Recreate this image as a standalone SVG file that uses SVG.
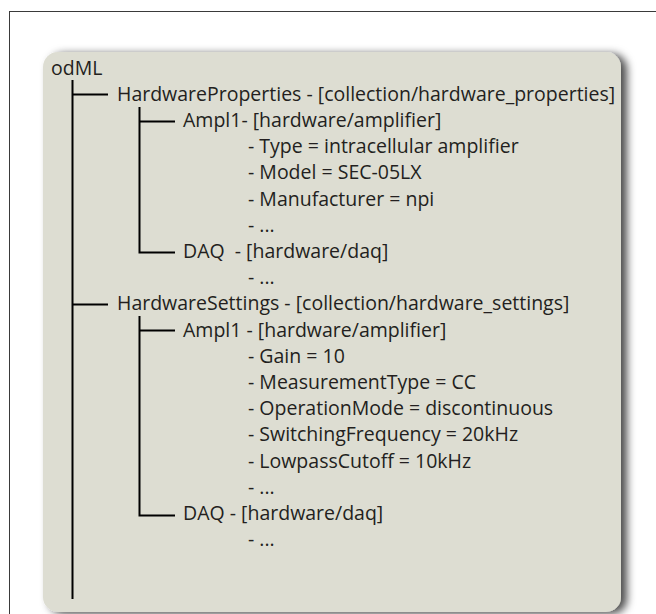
<svg xmlns="http://www.w3.org/2000/svg" width="656" height="614" viewBox="0 0 656 614">
  <style>
    text { font-family: "Open Sans", "Liberation Sans", sans-serif; font-size: 19.5px; fill: #231f20; }
    .conn { stroke: #000; stroke-width: 2; fill: none; }
  </style>
  <defs>
    <filter id="shadow" x="-10%" y="-10%" width="125%" height="125%">
      <feDropShadow dx="6" dy="2" stdDeviation="4" flood-color="#000" flood-opacity="0.7"/>
    </filter>
  </defs>
  <rect x="0" y="0" width="656" height="614" fill="#fff"/>
  <rect x="9.5" y="11.5" width="700" height="700" fill="none" stroke="#3a3a3a" stroke-width="1"/>
  <rect x="43" y="52" width="578" height="560" rx="15" fill="#ddddd2" filter="url(#shadow)"/>

  <g id="connectors">
    <path class="conn" d="M72.5 80 V599"/>
    <path class="conn" d="M72 94.5 H108"/>
    <path class="conn" d="M72 304.5 H108"/>
    <path class="conn" d="M139.5 107 V252.5 H175"/>
    <path class="conn" d="M139 121.5 H175"/>
    <path class="conn" d="M139.5 316 V515.5 H175"/>
    <path class="conn" d="M139 330.5 H175"/>
  </g>

  <g id="odml"><text x="51" y="74.5">odML</text></g>
  <g id="hw-properties"><text x="117" y="100.7">HardwareProperties - [collection/hardware_properties]</text></g>
  <g id="props-ampl1">
    <text x="183" y="126.9">Ampl1- [hardware/amplifier]</text>
    <text x="248" y="153.1">- Type = intracellular amplifier</text>
    <text x="248" y="179.3">- Model = SEC-05LX</text>
    <text x="248" y="205.5">- Manufacturer = npi</text>
    <text x="248" y="231.7">- ...</text>
  </g>
  <g id="props-daq">
    <text x="183" y="257.9" xml:space="preserve">DAQ  - [hardware/daq]</text>
    <text x="248" y="284.1">- ...</text>
  </g>
  <g id="hw-settings"><text x="117" y="310.3">HardwareSettings - [collection/hardware_settings]</text></g>
  <g id="settings-ampl1">
    <text x="183" y="336.5">Ampl1 - [hardware/amplifier]</text>
    <text x="248" y="362.7">- Gain = 10</text>
    <text x="248" y="388.9">- MeasurementType = CC</text>
    <text x="248" y="415.1">- OperationMode = discontinuous</text>
    <text x="248" y="441.3">- SwitchingFrequency = 20kHz</text>
    <text x="248" y="467.5">- LowpassCutoff = 10kHz</text>
    <text x="248" y="493.7">- ...</text>
  </g>
  <g id="settings-daq">
    <text x="183" y="519.9">DAQ - [hardware/daq]</text>
    <text x="248" y="546.1">- ...</text>
  </g>
</svg>
